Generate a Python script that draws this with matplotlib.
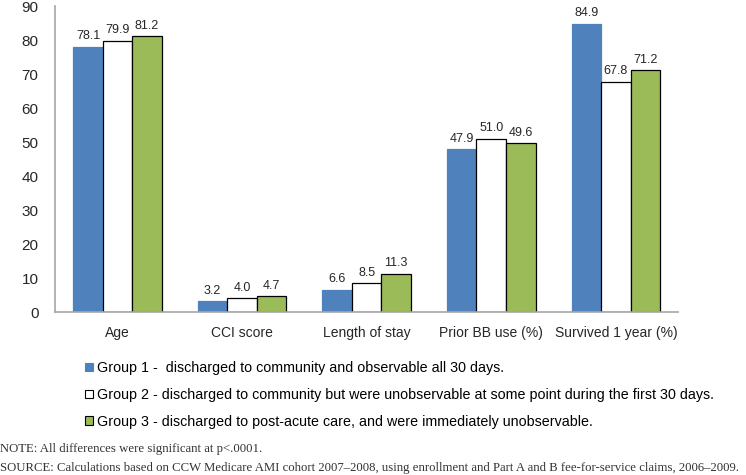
import matplotlib
matplotlib.use("Agg")
import matplotlib.pyplot as plt
import numpy as np
from matplotlib.patches import Patch

categories = ["Age", "CCI score", "Length of stay", "Prior BB use (%)", "Survived 1 year (%)"]
group1 = [78.1, 3.2, 6.6, 47.9, 84.9]
group2 = [79.9, 4.0, 8.5, 51.0, 67.8]
group3 = [81.2, 4.7, 11.3, 49.6, 71.2]
labels = [
    "Group 1 -  discharged to community and observable all 30 days.",
    "Group 2 - discharged to community but were unobservable at some point during the first 30 days.",
    "Group 3 - discharged to post-acute care, and were immediately unobservable.",
]
yticks = [0, 10, 20, 30, 40, 50, 60, 70, 80, 90]
note = "NOTE: All differences were significant at p<.0001."
source = "SOURCE: Calculations based on CCW Medicare AMI cohort 2007\u20132008, using enrollment and Part A and B fee-for-service claims, 2006\u20132009."

plt.rcParams['font.family'] = ['Liberation Sans', 'DejaVu Sans']
serif = ['Liberation Serif', 'DejaVu Serif']

W, H = 746, 475
fig = plt.figure(figsize=(W / 100, H / 100), dpi=100)
ax = fig.add_axes([0.074, 0.343, 0.835, 0.644])

x = np.arange(len(categories))
w = 0.237
styles = [
    dict(color="#4F81BD", edgecolor="#4F81BD"),
    dict(color="#FFFFFF", edgecolor="#000000"),
    dict(color="#9BBB59", edgecolor="#000000"),
]
series = [group1, group2, group3]
for i, (vals, st) in enumerate(zip(series, styles)):
    bars = ax.bar(x + (i - 1) * w, vals, w, linewidth=0.9, **st)
    for b, v in zip(bars, vals):
        ax.text(b.get_x() + b.get_width() / 2, v + 1.3, f"{v:.1f}",
                ha="center", va="bottom", fontsize=9, color="#262626")

ax.set_xlim(-0.5, len(categories) - 0.5)
ax.set_ylim(0, 90)
ax.set_yticks(yticks)
ax.set_xticks(x)
ax.set_xticklabels(categories, fontsize=10)
ax.tick_params(axis='y', labelsize=11, length=0, pad=12, colors="#262626")
ax.tick_params(axis='x', length=0, pad=10, colors="#262626")
for s in ["top", "right"]:
    ax.spines[s].set_visible(False)
for s in ["left", "bottom"]:
    ax.spines[s].set_color("#A6A6A6")
    ax.spines[s].set_linewidth(1.2)

handles = [Patch(facecolor=st["color"], edgecolor="#000000" if i else "#4F81BD", linewidth=0.8)
           for i, st in enumerate(styles)]
fig.legend(handles, labels, loc="upper left", bbox_to_anchor=(85 / W, 1 - 361 / H),
           frameon=False, fontsize=10.3, handlelength=0.55, handleheight=0.55,
           handletextpad=0.3, labelspacing=0.9, borderpad=0, borderaxespad=0)

fig.text(0.0, 1 - 449 / H, note, family=serif, fontsize=9.2, color="#333333", va="center")
fig.text(0.0, 1 - 468 / H, source, family=serif, fontsize=9.2, color="#333333", va="center")

fig.savefig("out.png", dpi=100)
